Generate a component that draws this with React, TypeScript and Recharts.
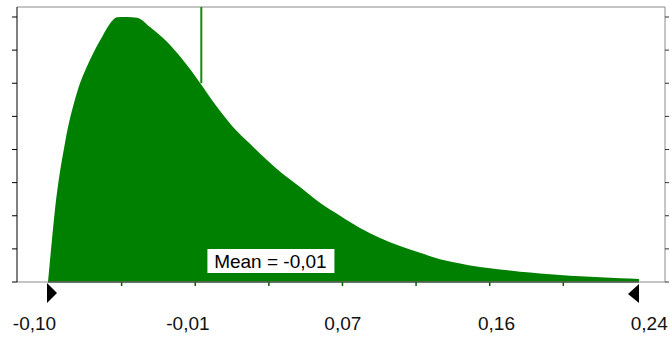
import { Area, AreaChart, ReferenceDot, ReferenceLine, XAxis, YAxis } from 'recharts';

// simulated distribution
const xs = [
  -0.1, -0.0979, -0.096, -0.0902, -0.0833, -0.0758, -0.0688, -0.0625, -0.0602, -0.0544,
  -0.0486, -0.0411, -0.0313, -0.0221, -0.0122, -0.0024, 0.0068, 0.0166, 0.0264, 0.0356,
  0.0455, 0.057, 0.0686, 0.0801, 0.0917, 0.1032, 0.1148, 0.1263, 0.1379, 0.1494,
  0.161, 0.1725, 0.1841, 0.1956, 0.2072, 0.2187, 0.2303, 0.2412,
];
const density = [
  0, 1.18, 2.17, 4.2, 5.71, 6.7, 7.4, 7.91, 7.99, 8.0,
  7.98, 7.7, 7.25, 6.7, 6.01, 5.28, 4.68, 4.17, 3.68, 3.26,
  2.87, 2.39, 2.0, 1.63, 1.33, 1.09, 0.88, 0.69, 0.56, 0.45,
  0.38, 0.31, 0.26, 0.21, 0.17, 0.14, 0.11, 0.09,
];

const yTicks = [0, 1, 2, 3, 4, 5, 6, 7, 8];
const tickMarks = [-0.0575, -0.015, 0.0275, 0.07, 0.1125, 0.155, 0.1975];
const labelAt = [-0.1078, -0.0192, 0.0702, 0.1589, 0.2471];
const labelText = ['-0,10', '-0,01', '0,07', '0,16', '0,24'];

const rangeMin = -0.1;
const rangeMax = 0.2412;
const meanValue = -0.0115;
const meanDensity = 6.0;
const meanLabel = 'Mean = -0,01';

const xDomain = [-0.1179, 0.2562];
const yTop = 8.302;

const data = xs.map((x, i) => ({ x, y: density[i] }));
const FONT = '"Liberation Sans", Arial, sans-serif';

function AxisTick(props: any) {
  const { x, y, payload } = props;
  const li = labelAt.indexOf(payload.value);
  if (li >= 0) {
    return (
      <text x={x} y={y + 35} dy="0.71em" textAnchor="middle" fontSize={19} fill="#111" fontFamily={FONT}>
        {labelText[li]}
      </text>
    );
  }
  return <line x1={x} x2={x} y1={y} y2={y + 4} stroke="#0a5a0a" strokeWidth={1.5} />;
}

function StartMark(props: any) {
  const { cx, cy } = props;
  return <polygon points={`${cx - 1},${cy + 1} ${cx - 1},${cy + 21} ${cx + 9},${cy + 11}`} fill="#000" />;
}

function EndMark(props: any) {
  const { cx, cy } = props;
  return <polygon points={`${cx},${cy + 2} ${cx},${cy + 21} ${cx - 11},${cy + 12}`} fill="#000" />;
}

function MeanBox(props: any) {
  const { cx, cy } = props;
  return (
    <g>
      <rect x={cx - 63} y={cy - 12} width={127} height={24} fill="#fff" />
      <text x={cx} y={cy} dy="0.36em" textAnchor="middle" fontSize={19} fill="#000" fontFamily={FONT}>
        {meanLabel}
      </text>
    </g>
  );
}

export default function App() {
  return (
    <div style={{ position: 'absolute', left: 0, top: 0, width: 670, height: 338, background: '#fff' }}>
      <AreaChart width={670} height={338} data={data} margin={{ top: 7, right: 0, left: 0, bottom: 0 }}>
        <XAxis
          type="number"
          dataKey="x"
          domain={xDomain}
          allowDataOverflow
          ticks={[...tickMarks, ...labelAt]}
          interval={0}
          height={56}
          tickLine={false}
          tickSize={0}
          tickMargin={0}
          axisLine={{ stroke: '#8c8c8c' }}
          tick={<AxisTick />}
        />
        <YAxis
          yAxisId="left"
          domain={[0, yTop]}
          allowDataOverflow
          ticks={yTicks}
          width={17}
          tickSize={5}
          tickFormatter={() => ''}
          axisLine={{ stroke: '#000' }}
          tickLine={{ stroke: '#000' }}
        />
        <YAxis
          yAxisId="right"
          orientation="right"
          domain={[0, yTop]}
          allowDataOverflow
          ticks={yTicks}
          width={5}
          tickSize={4}
          tickFormatter={() => ''}
          axisLine={{ stroke: '#8c8c8c' }}
          tickLine={{ stroke: '#333' }}
        />
        <Area
          yAxisId="left"
          type="monotone"
          dataKey="y"
          fill="#008000"
          fillOpacity={1}
          stroke="none"
          isAnimationActive={false}
        />
        <ReferenceLine yAxisId="left" y={yTop} stroke="#8c8c8c" />
        <ReferenceLine
          yAxisId="left"
          segment={[{ x: rangeMin, y: 0 }, { x: rangeMax, y: 0 }]}
          stroke="#0b2a0b"
          strokeWidth={1.5}
        />
        <ReferenceLine
          yAxisId="left"
          segment={[{ x: meanValue, y: meanDensity }, { x: meanValue, y: yTop }]}
          stroke="#108a10"
          strokeWidth={2}
        />
        <ReferenceDot yAxisId="left" x={0.0284} y={0.634} shape={<MeanBox />} ifOverflow="visible" />
        <ReferenceDot yAxisId="left" x={rangeMin} y={0} shape={<StartMark />} ifOverflow="visible" />
        <ReferenceDot yAxisId="left" x={rangeMax} y={0} shape={<EndMark />} ifOverflow="visible" />
      </AreaChart>
    </div>
  );
}
